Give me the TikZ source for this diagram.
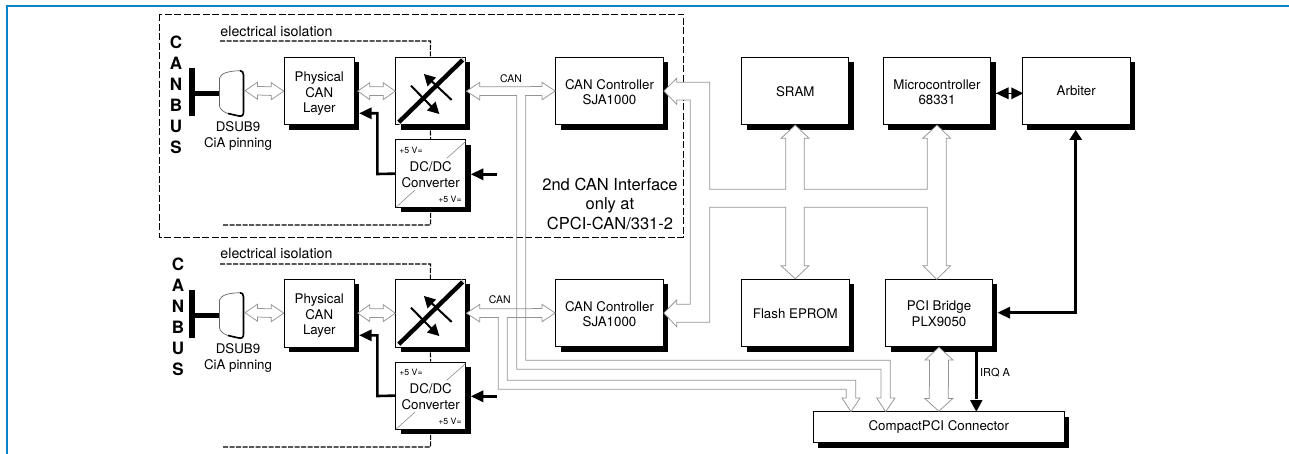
\documentclass[tikz,border=0pt]{standalone}
\usepackage{fontspec}
\setmainfont{TeX Gyre Heros}
\usetikzlibrary{calc,shadows}
\newcommand\lineup[1]{\rule{0pt}{#1pt}}
\tikzset{
  x=1pt,y=-1pt,
  boxbase/.style={draw=black,line width=1pt,fill=white,inner sep=0pt,align=center,
    font=\fontsize{13.3}{15.6}\selectfont,
    general shadow={shadow xshift=5pt,shadow yshift=-5pt,fill=black}},
  busline/.style={draw=black!42,line width=0.75pt,line join=miter},
  bushead/.style={busline,fill=white},
  blackline/.style={draw=black,line width=2.6pt},
  blackhead/.style={fill=black,draw=none},
  isoline/.style={draw=black,line width=1.1pt,dash pattern=on 5pt off 1.5pt},
  outerdash/.style={draw=black,line width=0.8pt,dash pattern=on 7pt off 2.5pt},
  txt/.style={inner sep=0pt,font=\fontsize{13.3}{15.6}\selectfont,align=center},
  smalltxt/.style={inner sep=0pt,font=\fontsize{8.7}{10}\selectfont},
  canlabel/.style={inner sep=0pt,font=\fontsize{10.5}{12}\selectfont},
}
% horizontal double hollow arrow: tips, head length, head half width, shaft half width
\newcommand\biH[5]{\draw[bushead] (#1) -- ($(#1)+(#3,-#4)$) -- ($(#1)+(#3,-#5)$) -- ($(#2)+(-#3,-#5)$) -- ($(#2)+(-#3,-#4)$) -- (#2) -- ($(#2)+(-#3,#4)$) -- ($(#2)+(-#3,#5)$) -- ($(#1)+(#3,#5)$) -- ($(#1)+(#3,#4)$) -- cycle;}
\newcommand\biV[5]{\draw[bushead] (#1) -- ($(#1)+(-#4,#3)$) -- ($(#1)+(-#5,#3)$) -- ($(#2)+(-#5,-#3)$) -- ($(#2)+(-#4,-#3)$) -- (#2) -- ($(#2)+(#4,-#3)$) -- ($(#2)+(#5,-#3)$) -- ($(#1)+(#5,#3)$) -- ($(#1)+(#4,#3)$) -- cycle;}
\begin{document}
\begin{tikzpicture}
\useasboundingbox (0,0) rectangle (1289,454);
\fill[white] (0,0) rectangle (1289,454);
% page frame
\draw[draw={rgb,255:red,8;green,133;blue,201},line width=2pt] (7,454) -- (7,6) -- (1289,6);
% outer dashed box
\draw[outerdash] (159.5,14.3) rectangle (683.3,237.5);

% the two isolated CAN front ends
\foreach \s/\yy/\dd in {a/0/0,b/222/1}{
\begin{scope}[shift={(0,\yy)}]
  \node[inner sep=0pt,font=\fontsize{14.2}{16}\selectfont] (iso-label\s) at (276.5,31.9) {electrical isolation};
  \node[inner sep=0pt,align=center,font=\bfseries\fontsize{17}{21}\selectfont] (canbus\s) at ({176+\dd*2},95.3) {C\\A\\N\\B\\U\\S};
  \node[boxbase,minimum width=70pt,minimum height=67.7pt] (phys\s) at (319.3,91.15) {\lineup{15}Physical\\CAN\\Layer};
  \node[boxbase,minimum width=69.3pt,minimum height=67.7pt] (iso\s) at (430.35,91.15) {};
  \node[boxbase,minimum width=70pt,minimum height=67.3pt] (dc\s) at (430.7,173.65) {\lineup{12}DC/DC\\Converter};
  \node[txt] (dsub\s) at (238,136) {DSUB9\\CiA pinning};
  \node[smalltxt] (vin\s) at (411,150) {+5 V=};
  \node[smalltxt] (vout\s) at (450,199) {+5 V=};
  % isolation barrier dashes
  \coordinate (isoTL\s) at (220,{41+\dd});
  \coordinate (isoBL\s) at (222,225);
  \draw[isoline] (isoTL\s) -- (430.5,{41+\dd}) -- (iso\s.north);
  \draw[isoline] ($(iso\s.south)+(0,5)$) -- (dc\s.north);
  \draw[isoline] ($(dc\s.south)+(0,5)$) -- (430.5,225) -- (isoBL\s);
  % isolator symbol
  \draw[line width=4.4pt,black] (398.3,122.7) -- (463.3,59.3);
  \draw[white,line width=0.8pt] (396.5,120.5) -- (400.5,124.8) (461,57.6) -- (465.2,61.6);
  \draw[black,line width=2pt] (451.7,100) -- (430,79.6);
  \fill[black] (424,74) -- (436,77.5) -- (427.5,86.5) -- cycle;
  \draw[black,line width=2pt] (411,85.7) -- (433,108.2);
  \fill[black] (439.3,114) -- (427,110.5) -- (435.5,101.5) -- cycle;
  % DC/DC diagonals
  \draw[black!45,line width=0.6pt] (465.5,141.7) -- (446.7,158.3) (415,190) -- (396,207.3);
  % T-bar and connector
  \draw[black,line width=6pt] (191.7,68) -- (191.7,116);
  \coordinate (tw\s) at (220,93.3);
  \draw[black,line width=5pt] (191.7,93.3) -- (tw\s);
  \draw[black!60,line width=0.7pt,fill=white] (219.5,78) .. controls (221,73) and (229,71) .. (240,70.7) .. controls (242,70.7) and (243.5,72) .. (243.5,75) -- (243.5,112) .. controls (243.5,115.5) and (242,116.5) .. (239,116) .. controls (232,115) and (221,113) .. (219.5,106) -- cycle;
  \draw[black,line width=1.6pt] (240,70.7) .. controls (242,70.7) and (243.5,72) .. (243.5,75) -- (243.5,112) .. controls (243.5,115.5) and (242,116.5) .. (239,116) -- (228,113.5);
  % hollow arrows
  \coordinate (dsubE\s) at (245,90.7);
  \coordinate (physR\s) at ($(phys\s.east)+(3,0)$);
  \biH{dsubE\s}{phys\s.west}{12.5}{8.5}{4.3}
  \biH{physR\s}{iso\s.west}{12}{8.5}{4.3}
  % supply
  \coordinate (physTip\s) at (359.3,113.3);
  \draw[blackline] (dc\s.west) -- (377.3,174) -- (377.3,113.3) -- (370,113.3);
  \fill[blackhead] (physTip\s) -- (371.7,107.3) -- (371.7,119.3) -- cycle;
  \coordinate (inS\s) at (496.7,174.3);
  \coordinate (inT\s) at (471,174.3);
  \draw[blackline] (inS\s) -- (482,174.3);
  \fill[blackhead] (inT\s) -- (483.3,168.3) -- (483.3,180.3) -- cycle;
\end{scope}
}

% main blocks
\node[boxbase,minimum width=107.6pt,minimum height=67.4pt] (ctrlA) at (609.5,91) {\lineup{12}CAN Controller\\SJA1000};
\node[boxbase,minimum width=107.6pt,minimum height=67.4pt] (ctrlB) at (609.5,313) {\lineup{12}CAN Controller\\SJA1000};
\node[boxbase,minimum width=107.3pt,minimum height=67.4pt] (sram) at (795.3,91) {\lineup{11}SRAM};
\node[boxbase,minimum width=107.4pt,minimum height=67.4pt] (flash) at (795.3,313) {\lineup{11}Flash EPROM};
\node[boxbase,minimum width=107.4pt,minimum height=67.4pt] (micro) at (937,91) {\lineup{12}Microcontroller\\68331};
\node[boxbase,minimum width=107.7pt,minimum height=67.4pt] (arb) at (1076.2,91) {Arbiter};
\node[boxbase,minimum width=106.6pt,minimum height=67.4pt] (pci) at (939,313) {\lineup{11}PCI Bridge\\PLX9050};
\node[boxbase,minimum width=251pt,minimum height=31pt] (cpci) at (938.8,427.2) {CompactPCI Connector};

% texts
\node[inner sep=0pt,align=center,font=\fontsize{16.5}{19.4}\selectfont] (note) at (610,203.7) {2nd CAN Interface\\only at\\CPCI-CAN/331-2};
\node[canlabel] (canA) at (511,78.3) {CAN};
\node[canlabel] (canB) at (499.7,300) {CAN};
\node[canlabel,font=\fontsize{11}{12}\selectfont] (irq) at (995,372.3) {IRQ A};

% memory / local bus
\draw[bushead] (ctrlA.east) -- (676.7,78.3) -- (676.7,82.3) -- (709.7,82.3) -- (709.7,189.3) -- (785.7,189.3) -- (785.7,138.3) -- (781,138.3) -- (sram.south) -- (809,138.3) -- (804.3,138.3) -- (804.3,189.3) -- (927.3,189.3) -- (927.3,138.3) -- (922.7,138.3) -- (micro.south) -- (950.7,138.3) -- (946.3,138.3) -- (946.3,265.7) -- (950.7,265.7) -- (936.7,279.3) -- (923,265.7) -- (927.3,265.7) -- (927.3,207.3) -- (804.3,207.3) -- (804.3,265.7) -- (809,265.7) -- (flash.north) -- (781,265.7) -- (785.7,265.7) -- (785.7,207.3) -- (709.7,207.3) -- (709.7,322.3) -- (676.7,322.3) -- (676.7,326.7) -- (ctrlB.east) -- (676.7,300) -- (676.7,304.3) -- (690.3,304.3) -- (690.3,100) -- (676.7,100) -- (676.7,104.3) -- cycle;

% CAN buses
\coordinate (isoAr) at ($(isoa.east)+(1,0)$);
\coordinate (isoBr) at ($(isob.east)+(1,0)$);
\biH{isoAr}{ctrlA.west}{13.3}{8.8}{4.4}
\biH{isoBr}{ctrlB.west}{13.3}{8.8}{4.4}
\draw[white,line width=1.2pt] (517.4,95.4) -- (525,95.4);
\draw[white,line width=1.2pt] (499,317.4) -- (506.6,317.4);
\coordinate (cpciT1) at (851,411.7);
\coordinate (cpciT2) at (885.7,411.7);
\draw[busline] (516.7,95.4) -- (516.7,369.3) -- (881,369.3) -- (881,398) -- (876.7,398) -- (cpciT2) -- (895,398) -- (890.3,398) -- (890.3,360.3) -- (525.7,360.3) -- (525.7,95.4);
\draw[busline] (498.3,317.4) -- (498.3,389.3) -- (846.3,389.3) -- (846.3,398) -- (842,398) -- (cpciT1) -- (860,398) -- (855.7,398) -- (855.7,380.3) -- (507.3,380.3) -- (507.3,317.4);

% PCI to CompactPCI
\coordinate (pciB) at (939,347.3);
\biV{pciB}{cpci.north}{12.7}{14}{9.5}

% black connections
\coordinate (microR) at (996,93.3);
\coordinate (arbL) at (1023.3,93.3);
\fill[blackhead] (microR) -- (1008.5,87.3) -- (1008.5,99.3) -- cycle;
\fill[blackhead] (arbL) -- (1011.3,87.3) -- (1011.3,99.3) -- cycle;
\draw[black,line width=0.8pt] (microR) -- (arbL);
\coordinate (arbTip) at (1075.7,130);
\coordinate (pciTip) at (997.7,312.7);
\draw[blackline] (1075.7,139) -- (1075.7,312.7) -- (1009,312.7);
\fill[blackhead] (arbTip) -- (1069.2,140) -- (1082.2,140) -- cycle;
\fill[blackhead] (pciTip) -- (1010,306.7) -- (1010,318.7) -- cycle;
\coordinate (irqS) at (976.3,351);
\coordinate (irqT) at (976.3,411.7);
\draw[blackline,line width=3pt] (irqS) -- (976.3,399);
\fill[blackhead] (irqT) -- (970,400) -- (982.6,400) -- cycle;
\end{tikzpicture}
\end{document}
